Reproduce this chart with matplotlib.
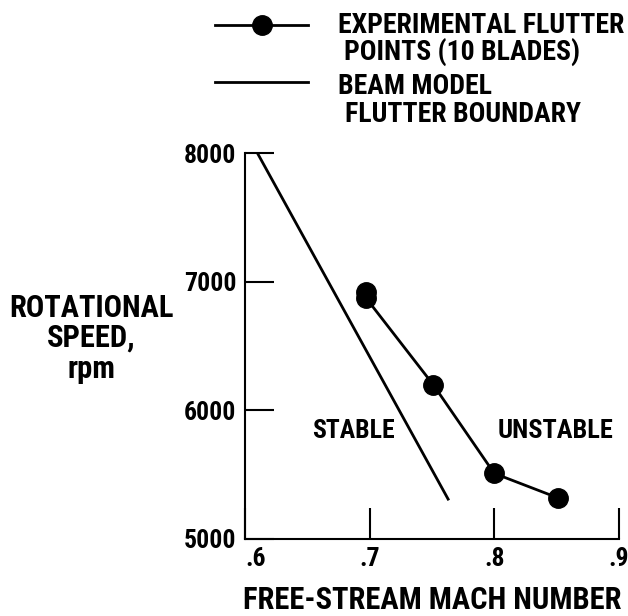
import matplotlib
matplotlib.use("Agg")
import matplotlib.pyplot as plt
from matplotlib.lines import Line2D

plt.rcParams['font.family'] = ['Roboto Condensed', 'IBM Plex Sans Condensed', 'DejaVu Sans']
plt.rcParams['font.weight'] = 'bold'

# experimental flutter points (10 blades)
exp_mach = [0.697, 0.697, 0.751, 0.80, 0.851]
exp_rpm = [6920, 6875, 6200, 5510, 5320]

# beam model flutter boundary
beam_mach = [0.61, 0.763]
beam_rpm = [8000, 5310]

x_ticks = [0.6, 0.7, 0.8, 0.9]
x_labels = ['.6', '.7', '.8', '.9']
y_ticks = [5000, 6000, 7000, 8000]

fig = plt.figure(figsize=(6.28, 6.16), dpi=100)
ax = fig.add_axes([0.390, 0.125, 0.5955, 0.6266])

ax.plot(beam_mach, beam_rpm, color='black', lw=2)
ax.plot(exp_mach, exp_rpm, color='black', lw=2, marker='o', ms=14)

ax.set_xlim(0.6, 0.9)
ax.set_ylim(5000, 8000)
ax.set_xticks(x_ticks)
ax.set_xticklabels(x_labels)
ax.set_yticks(y_ticks)
for s in ['top', 'right']:
    ax.spines[s].set_visible(False)
for s in ['left', 'bottom']:
    ax.spines[s].set_linewidth(1.5)
ax.tick_params(direction='in', width=1.5, labelsize=18.5)
ax.tick_params(axis='x', length=22, pad=6)
ax.tick_params(axis='y', length=21, pad=6)
# first x label sits right of the corner, clear of the 5000 label
ax.get_xticklabels()[0].set_horizontalalignment('left')

ax.text(0.687, 5786, 'STABLE', fontsize=18.5, ha='center', va='baseline')
ax.text(0.849, 5786, 'UNSTABLE', fontsize=19, ha='center', va='baseline')

# axis titles, one text per printed line
fig.text(0.688, 0.011, 'FREE-STREAM MACH NUMBER', fontsize=22, ha='center', va='baseline')
for txt, yb in zip(['ROTATIONAL', 'SPEED,', 'rpm'], [0.4854, 0.4367, 0.386]):
    fig.text(0.145, yb, txt, fontsize=22, ha='center', va='baseline')

# legend drawn by hand so the handles sit on the first text line
fig.add_artist(Line2D([0.342, 0.490], [0.960, 0.960], color='black', lw=2))
fig.add_artist(Line2D([0.417], [0.960], color='black', marker='o', ms=14))
fig.add_artist(Line2D([0.342, 0.490], [0.867, 0.867], color='black', lw=2))
leg_lines = ['EXPERIMENTAL FLUTTER', 'POINTS (10 BLADES)', 'BEAM MODEL', 'FLUTTER BOUNDARY']
leg_x = [0.538, 0.547, 0.538, 0.549]
leg_y = [0.9464, 0.9026, 0.8474, 0.8019]
for txt, xx, yy in zip(leg_lines, leg_x, leg_y):
    fig.text(xx, yy, txt, fontsize=20, ha='left', va='baseline')

fig.savefig('out.png', dpi=100)
